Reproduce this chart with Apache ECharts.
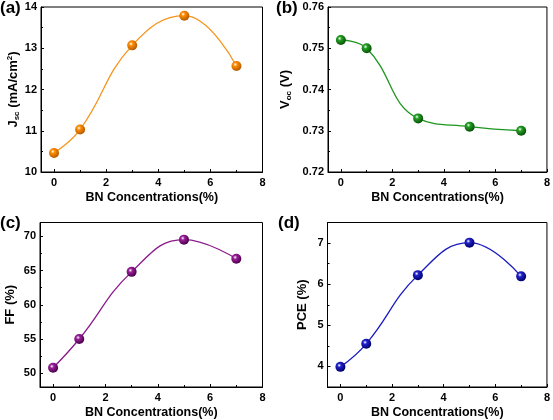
<!DOCTYPE html>
<html>
<head>
<meta charset="utf-8">
<script src="https://cdn.jsdelivr.net/npm/echarts@6/dist/echarts.min.js"></script>
<style>
html,body{margin:0;padding:0;background:#fff;}
#c{width:553px;height:420px;}
</style>
</head>
<body>
<div id="c"></div>
<script>
// ---- data ----
var conc = [0, 1, 3, 5, 7];
var jsc = [10.46, 11.03, 13.07, 13.79, 12.57];
var voc = [0.752, 0.750, 0.733, 0.731, 0.730];
var ff = [50.8, 55.0, 64.8, 69.5, 66.7];
var pce = [3.99, 4.55, 6.22, 7.01, 6.19];

var xMajor = [0, 2, 4, 6, 8];
var xMinor = [1, 3, 5, 7];
var jscMajor = [10, 11, 12, 13, 14];
var jscMinor = [10.5, 11.5, 12.5, 13.5];
var vocMajor = [0.72, 0.73, 0.74, 0.75, 0.76];
var vocMinor = [0.725, 0.735, 0.745, 0.755];
var ffMajor = [50, 55, 60, 65, 70];
var ffMinor = [52.5, 57.5, 62.5, 67.5];
var pceMajor = [4, 5, 6, 7];
var pceMinor = [4.5, 5.5, 6.5];

var xName = 'BN Concentrations(%)';
var panelLabels = ['(a)', '(b)', '(c)', '(d)'];

var FONT = 'Arial, "Liberation Sans", sans-serif';

var panels = [
  {grid:{left:41, top:7, width:221.5, height:165}, data:jsc, ymin:10, ymax:14, major:jscMajor, minor:jscMinor,
   name:'{m|J}{s|sc}{m| (mA/cm}{p|2}{m|)}', gap:20, color:'#ff8c00', line:'#f7941d', dark:'#b35a00', fmt:function(v){return String(v);}},
  {grid:{left:328, top:7, width:222, height:165}, data:voc, ymin:0.72, ymax:0.76, major:vocMajor, minor:vocMinor,
   name:'{m|V}{s|oc}{m| (V)}', gap:35, color:'#22a022', line:'#1e961e', dark:'#0a500a', fmt:function(v){return v.toFixed(2);}},
  {grid:{left:40, top:222.5, width:222.5, height:165}, data:ff, ymin:48, ymax:72, major:ffMajor, minor:ffMinor,
   name:'{m|FF (%)}', gap:23, color:'#9a1f9a', line:'#8b1a8b', dark:'#4a004a', fmt:function(v){return String(v);}},
  {grid:{left:327.5, top:222.5, width:222.5, height:165}, data:pce, ymin:3.5, ymax:7.5, major:pceMajor, minor:pceMinor,
   name:'{m|PCE (%)}', gap:19, color:'#2222cc', line:'#1a1ac0', dark:'#00006a', fmt:function(v){return String(v);}}
];

var grids = [], xAxes = [], yAxes = [], series = [], graphics = [];
var labelPos = [[0, 0], [276, 0], [0, 215], [278, 215]];

panels.forEach(function (p, i) {
  grids.push(Object.assign({show:true, borderColor:'#000', borderWidth:1, backgroundColor:'transparent'}, p.grid));
  xAxes.push({
    type:'value', gridIndex:i, position:'bottom', min:-0.5, max:8,
    name:xName, nameLocation:'middle', nameGap:19,
    nameTextStyle:{fontFamily:FONT, fontWeight:'bold', fontSize:12.5, color:'#000'},
    axisLine:{show:true, onZero:false, lineStyle:{color:'#000', width:1}},
    axisTick:{show:true, inside:true, length:3, customValues:xMajor, lineStyle:{color:'#000'}},
    axisLabel:{show:true, customValues:xMajor, margin:5, fontFamily:FONT, fontWeight:'bold', fontSize:11, color:'#000'},
    splitLine:{show:false}
  });
  xAxes.push({
    type:'value', gridIndex:i, position:'bottom', min:-0.5, max:8,
    axisLine:{show:false, onZero:false},
    axisTick:{show:true, inside:true, length:2, customValues:xMinor, lineStyle:{color:'#000'}},
    axisLabel:{show:false},
    splitLine:{show:false}
  });
  yAxes.push({
    type:'value', gridIndex:i, position:'left', min:p.ymin, max:p.ymax,
    name:p.name, nameLocation:'middle', nameGap:p.gap, nameRotate:90,
    nameTextStyle:{fontFamily:FONT, fontWeight:'bold', fontSize:13, color:'#000',
      rich:{
        m:{fontFamily:FONT, fontWeight:'bold', fontSize:13, color:'#000'},
        s:{fontFamily:FONT, fontWeight:'bold', fontSize:8, color:'#000', padding:[7,0,0,0]},
        p:{fontFamily:FONT, fontWeight:'bold', fontSize:8, color:'#000', padding:[0,0,7,0]}
      }},
    axisLine:{show:true, onZero:false, lineStyle:{color:'#000', width:1}},
    axisTick:{show:true, inside:true, length:3, customValues:p.major, lineStyle:{color:'#000'}},
    axisLabel:{show:true, customValues:p.major, margin:4, formatter:p.fmt, fontFamily:FONT, fontWeight:'bold', fontSize:11, color:'#000'},
    splitLine:{show:false}
  });
  yAxes.push({
    type:'value', gridIndex:i, position:'left', min:p.ymin, max:p.ymax,
    axisLine:{show:false, onZero:false},
    axisTick:{show:true, inside:true, length:2, customValues:p.minor, lineStyle:{color:'#000'}},
    axisLabel:{show:false},
    splitLine:{show:false}
  });
  var pts = conc.map(function (x, k) { return [x, p.data[k]]; });
  series.push({
    type:'line', xAxisIndex:2 * i, yAxisIndex:2 * i, data:pts, smooth:0.45,
    symbol:'circle', symbolSize:10,
    lineStyle:{color:p.line, width:1.3},
    itemStyle:{
      color:{type:'radial', x:0.38, y:0.35, r:0.65, colorStops:[
        {offset:0, color:'#ffffff'}, {offset:0.3, color:p.color}, {offset:1, color:p.dark}]},
      borderWidth:0
    },
    z:3, animation:false
  });
  graphics.push({
    type:'text', left:labelPos[i][0], top:labelPos[i][1],
    style:{text:panelLabels[i], fontFamily:FONT, fontWeight:'bold', fontSize:17, fill:'#000'}
  });
});

var chart = echarts.init(document.getElementById('c'), null, {renderer:'canvas'});
chart.setOption({
  animation:false,
  backgroundColor:'#fff',
  grid:grids, xAxis:xAxes, yAxis:yAxes, series:series, graphic:graphics
});
</script>
</body>
</html>
